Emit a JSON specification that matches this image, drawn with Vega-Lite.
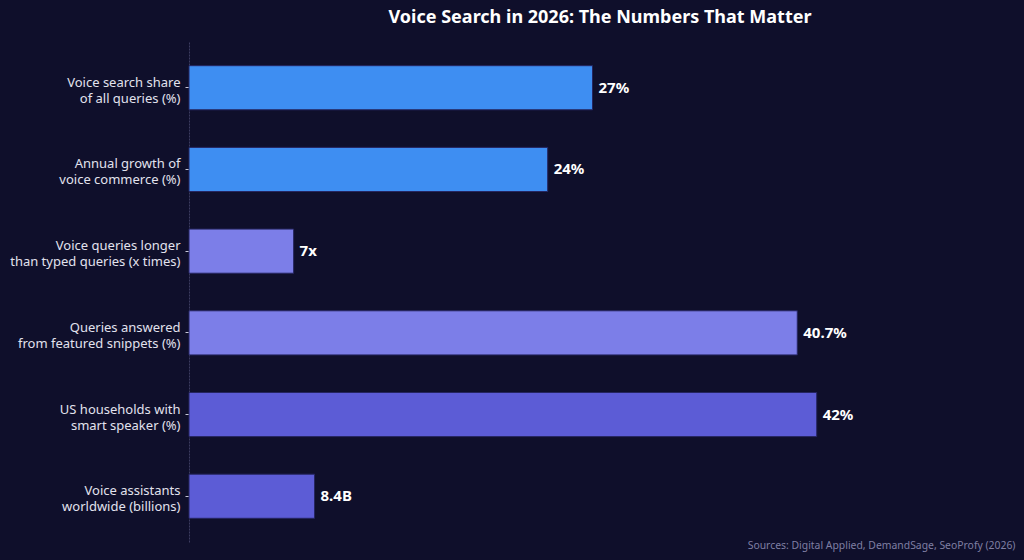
{
  "$schema": "https://vega.github.io/schema/vega-lite/v6.json",
  "autosize": {"type": "none"},
  "padding": {"left": 189, "top": 42, "right": 13, "bottom": 18},
  "width": 822,
  "height": 500,
  "background": "#0f0f2b",
  "title": {
    "text": "Voice Search in 2026: The Numbers That Matter",
    "font": "Noto Sans",
    "fontSize": 18,
    "fontWeight": "bold",
    "color": "#ffffff",
    "anchor": "middle",
    "offset": 15
  },
  "config": {
    "view": {"stroke": null},
    "font": "Noto Sans"
  },
  "data": {
    "values": [
      {"metric": "Voice search share|of all queries (%)", "value": 27, "label": "27%", "group": "share"},
      {"metric": "Annual growth of|voice commerce (%)", "value": 24, "label": "24%", "group": "share"},
      {"metric": "Voice queries longer|than typed queries (x times)", "value": 7, "label": "7x", "group": "queries"},
      {"metric": "Queries answered|from featured snippets (%)", "value": 40.7, "label": "40.7%", "group": "queries"},
      {"metric": "US households with|smart speaker (%)", "value": 42, "label": "42%", "group": "devices"},
      {"metric": "Voice assistants|worldwide (billions)", "value": 8.4, "label": "8.4B", "group": "devices"}
    ]
  },
  "encoding": {
    "y": {
      "field": "metric",
      "type": "nominal",
      "sort": null,
      "scale": {"paddingInner": 0.46, "paddingOuter": 0.29},
      "axis": {
        "title": null,
        "labelExpr": "split(datum.label, '|')",
        "labelFont": "Noto Sans",
        "labelFontSize": 13,
        "labelColor": "#e2e2ee",
        "labelLineHeight": 16,
        "labelOffset": -5,
        "labelPadding": 5,
        "tickSize": 4,
        "tickColor": "#c8c8d8",
        "tickWidth": 1,
        "domainColor": "#3c3c60",
        "domainWidth": 1,
        "domainDash": [2, 1],
        "labelLimit": 300
      }
    },
    "x": {
      "field": "value",
      "type": "quantitative",
      "scale": {"domain": [0, 55], "nice": false},
      "axis": {
        "title": "Sources: Digital Applied, DemandSage, SeoProfy (2026)",
        "titleFont": "Noto Sans",
        "titleFontSize": 10.4,
        "titleFontWeight": "normal",
        "titleColor": "#7f7fa3",
        "titleAnchor": "end",
        "titleAlign": "right",
        "titleBaseline": "alphabetic",
        "titleX": 826,
        "titleY": 6,
        "labels": false,
        "ticks": false,
        "domain": false,
        "grid": false
      }
    }
  },
  "layer": [
    {
      "mark": {"type": "bar", "stroke": "#262660", "strokeWidth": 1},
      "encoding": {
        "color": {
          "field": "group",
          "type": "nominal",
          "scale": {"domain": ["share", "queries", "devices"], "range": ["#3e8ef2", "#7c7ee8", "#5c5cd6"]},
          "legend": null
        }
      }
    },
    {
      "mark": {"type": "text", "align": "left", "baseline": "middle", "dx": 6, "font": "Noto Sans", "fontSize": 15, "fontWeight": "bold", "color": "#ffffff"},
      "encoding": {"text": {"field": "label"}}
    }
  ]
}
